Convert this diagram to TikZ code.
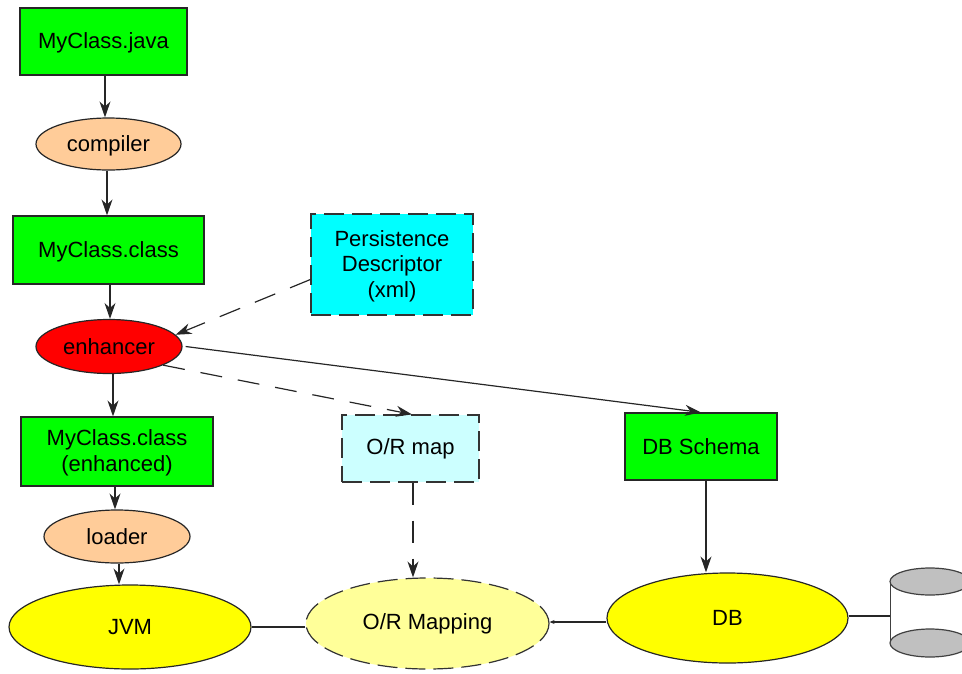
\documentclass[tikz,border=0pt]{standalone}
\usepackage{fontspec}
\setmainfont{Liberation Sans}
\usetikzlibrary{shapes.geometric,arrows.meta}
\definecolor{peach}{HTML}{FFCC99}
\definecolor{purecyan}{HTML}{00FFFF}
\definecolor{palecyan}{HTML}{CCFFFF}
\definecolor{pureyellow}{HTML}{FFFF00}
\definecolor{paleyellow}{HTML}{FFFF99}
\definecolor{diskgray}{HTML}{C0C0C0}
\newcommand{\lowtext}[1]{\raisebox{-1.5pt}[\height][\depth]{#1}}
\tikzset{
    boxnode/.style={rectangle, draw=black!85, line width=1.2pt, inner sep=0pt, align=center, font=\fontsize{22}{25.5}\selectfont},
    ellnode/.style={ellipse, draw=black!85, line width=1.2pt, inner sep=0pt, align=center, font=\fontsize{22}{25.5}\selectfont},
    dashnode/.style={draw=black!80, line width=1.2pt, dash pattern=on 20pt off 8pt},
    flow/.style={line width=1.2pt, draw=black!85, -{Stealth[length=16pt,width=11pt]}},
    dashflow/.style={flow, dash pattern=on 22pt off 16pt},
    link/.style={line width=1.2pt, draw=black!85},
}
\begin{document}
\begin{tikzpicture}[x=1pt,y=-1pt]
    \useasboundingbox (0,0) rectangle (962,673);
    \node[boxnode, fill=green, minimum width=167pt, minimum height=67pt] (java) at (103.5,41.5) {\lowtext{MyClass.java}};
    \node[ellnode, fill=peach, minimum width=145pt, minimum height=52pt] (compiler) at (108.5,144) {\lowtext{compiler}};
    \node[boxnode, fill=green, minimum width=191pt, minimum height=68pt] (class) at (108.5,250) {\lowtext{MyClass.class}};
    \node[boxnode, dashnode, fill=purecyan, minimum width=162pt, minimum height=101pt] (persist) at (392,264.5) {\lowtext{Persistence}\\\lowtext{Descriptor}\\\lowtext{(xml)}};
    \node[ellnode, fill=red, minimum width=146pt, minimum height=54pt] (enhancer) at (109,346.5) {enhancer};
    \node[boxnode, fill=green, minimum width=192pt, minimum height=69pt] (enhanced) at (117,451.5) {\lowtext{MyClass.class}\\\lowtext{(enhanced)}};
    \node[boxnode, dashnode, fill=palecyan, minimum width=137pt, minimum height=67pt] (ormap) at (410.5,448.5) {O/R map};
    \node[boxnode, fill=green, minimum width=152pt, minimum height=67pt] (schema) at (701,446.5) {DB Schema};
    \node[ellnode, fill=peach, minimum width=146pt, minimum height=53pt] (loader) at (117,536.5) {loader};
    \node[ellnode, fill=pureyellow, minimum width=242pt, minimum height=84pt] (jvm) at (130,627) {JVM};
    \node[ellnode, dashnode, fill=paleyellow, minimum width=243pt, minimum height=91pt] (mapping) at (427.5,623.5) {O/R Mapping};
    \node[ellnode, fill=pureyellow, minimum width=241pt, minimum height=90pt] (db) at (727.5,618) {DB};
    \coordinate (disk) at (890,616);
    \draw[flow] ([xshift=1.5]java.south) -- ([xshift=-3.5]compiler.north);
    \draw[flow] ([xshift=-1.5]compiler.south) -- ([xshift=-1.5]class.north);
    \draw[flow] ([xshift=1.5]class.south) -- ([xshift=1]enhancer.north);
    \draw[flow] ([xshift=4]enhancer.south) -- ([xshift=-4]enhanced.north);
    \draw[flow] ([xshift=-2]enhanced.south) -- ([xshift=-2]loader.north);
    \draw[flow] ([xshift=2]loader.south) -- ([xshift=-11]jvm.north);
    \draw[dashflow] ([yshift=-15]persist.west) -- (enhancer.10);
    \draw[dashflow] (enhancer.-19) -- ([xshift=1.5]ormap.north);
    \draw[flow] ([xshift=3]enhancer.east) -- (schema.north);
    \draw[dashflow] ([xshift=2.5]ormap.south) -- ([xshift=-14.5]mapping.north);
    \draw[flow] ([xshift=5]schema.south) -- ([xshift=-21.5]db.north);
    \draw[link] (jvm.east) -- (jvm.east -| mapping.west);
    \draw[-{Stealth[length=5pt,width=4pt]}, link] ([yshift=-4]db.west) -- ([yshift=-4]db.west -| mapping.east);
    \draw[link] ([yshift=2]db.east) -- (disk);
    \draw[fill=white, draw=black!75, line width=1pt] (890,581.5) -- (890,643) -- (970,643) -- (970,581.5) -- cycle;
    \draw[fill=diskgray, draw=black!75, line width=1.2pt] (930,643) ellipse (40pt and 14pt);
    \draw[fill=diskgray, draw=black!75, line width=1.2pt] (930,581.5) ellipse (40pt and 13.5pt);
\end{tikzpicture}
\end{document}
